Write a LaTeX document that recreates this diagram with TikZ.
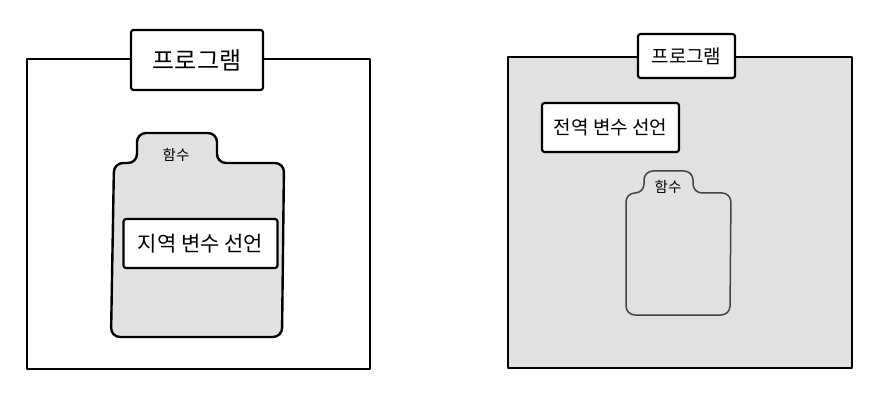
\documentclass[tikz,border=0pt]{standalone}
\usepackage{fontspec}
\setmainfont{Noto Sans CJK KR}
\definecolor{panelgray}{HTML}{E1E1E1}
\definecolor{softline}{HTML}{444444}
\begin{document}
\begin{tikzpicture}[x=1pt,y=-1pt,line join=round,
  frame/.style={draw=black,line width=2.1pt,inner sep=0pt},
  tagbox/.style={draw=black,fill=white,line width=2.2pt,rounded corners=2.5pt,inner sep=0pt,align=center},
  funcline/.style={draw=black,line width=2.4pt,rounded corners=9pt},
  funclinethin/.style={draw=softline,line width=1.5pt,rounded corners=9pt},
  tabtext/.style={inner sep=0pt,font=\fontsize{14.5}{14.5}\selectfont}]
\useasboundingbox (0,0) rectangle (892,406);
\fill[white] (0,0) rectangle (892,406);

% ---------- left panel ----------
\node[frame,minimum width=343pt,minimum height=310pt] (panelL) at (198.5,214) {};
\node[tagbox,minimum width=132pt,minimum height=60pt,font=\fontsize{24}{24}\selectfont] (titleL) at (197,60) {프로그램};
\draw[funcline,fill=panelgray] (111,337) -- (114,163) -- (137,163) -- (137,133) -- (217,133) -- (217,163) -- (284,163) -- (282,337) -- cycle;
\node[tabtext] (funcL) at (176,155) {함수};
\node[tagbox,minimum width=154pt,minimum height=49pt,font=\fontsize{21}{21}\selectfont] (localL) at (200.5,243.5) {지역 변수 선언};

% ---------- right panel ----------
\node[frame,fill=panelgray,minimum width=344pt,minimum height=311pt] (panelR) at (680,212.5) {};
\node[tagbox,minimum width=97pt,minimum height=44pt,font=\fontsize{19}{19}\selectfont] (titleR) at (686.5,56) {프로그램};
\node[tagbox,minimum width=137pt,minimum height=49pt,font=\fontsize{19}{19}\selectfont] (globalR) at (610.5,127.5) {전역 변수 선언};
\draw[funclinethin] (626,315) -- (626,193) -- (644,193) -- (644,171) -- (693,171) -- (693,193) -- (731,193) -- (730,315) -- cycle;
\node[tabtext] (funcR) at (668,187) {함수};
\end{tikzpicture}
\end{document}
